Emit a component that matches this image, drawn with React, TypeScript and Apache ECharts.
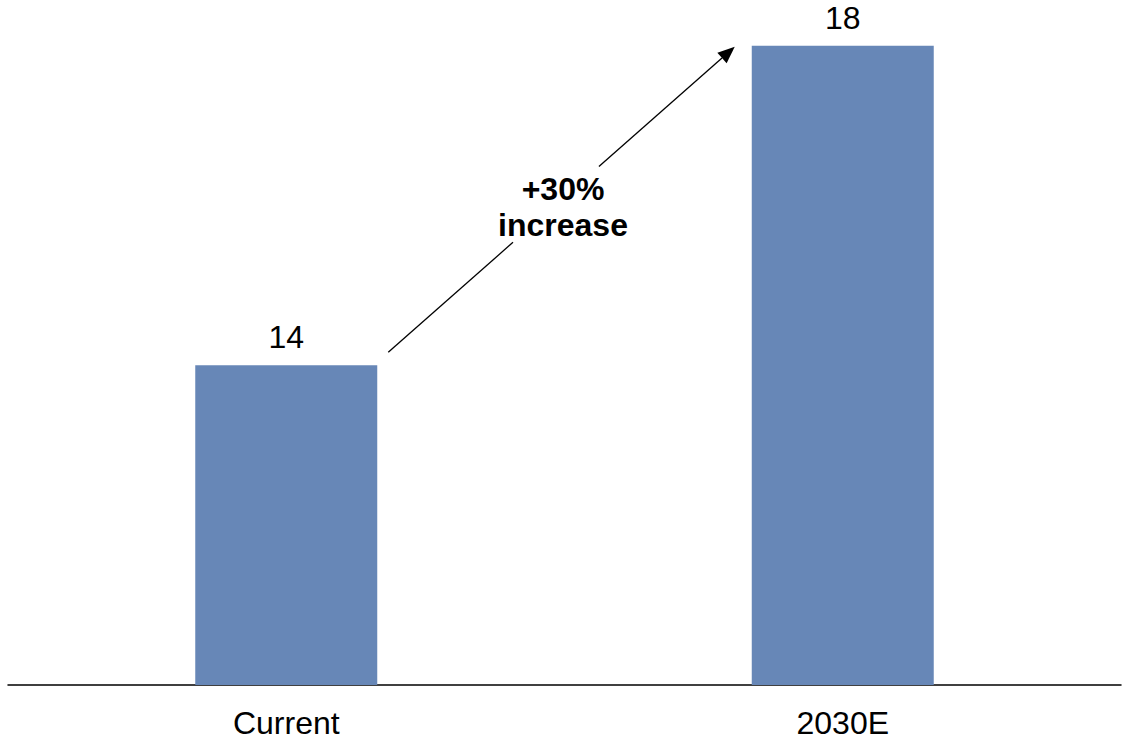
import React, { useEffect, useRef } from "react";
import * as echarts from "echarts";

const categories = ["Current", "2030E"];
const values = [14, 18];
const axisMin = 10;
const axisMax = 18;
const growthLabel = "+30%\nincrease";

const FONT = "'Liberation Sans', Arial, sans-serif";

export default function App() {
  const ref = useRef<HTMLDivElement>(null);
  useEffect(() => {
    document.body.style.margin = "0";
    const chart = echarts.init(ref.current!, null, { renderer: "svg" });
    const option: any = {
      animation: false,
      grid: { left: 8, right: 1, top: 45.7, bottom: 55, containLabel: false },
      xAxis: {
        type: "category",
        data: categories,
        axisLine: { lineStyle: { color: "#000", width: 1.5 } },
        axisTick: { show: false },
        axisLabel: { color: "#000", fontSize: 32, fontFamily: FONT, margin: 22 },
      },
      yAxis: {
        type: "value",
        min: axisMin,
        max: axisMax,
        show: false,
        splitLine: { show: false },
      },
      series: [
        {
          type: "bar",
          data: values,
          barWidth: 182,
          itemStyle: { color: "#6787b7" },
          label: {
            show: true,
            position: "top",
            distance: 12,
            color: "#000",
            fontSize: 32,
            fontFamily: FONT,
          },
        },
      ],
    };
    chart.setOption(option);

    const p1 = chart.convertToPixel({ xAxisIndex: 0, yAxisIndex: 0 }, [0, values[0]]) as number[];
    const p2 = chart.convertToPixel({ xAxisIndex: 0, yAxisIndex: 0 }, [1, values[1]]) as number[];
    const half = 91;
    const sx = p1[0] + half + 11;
    const sy = p1[1] - 13;
    const ex = p2[0] - half - 17;
    const ey = p2[1] + 1;
    const dx = ex - sx;
    const dy = ey - sy;
    const len = Math.sqrt(dx * dx + dy * dy);
    const ux = dx / len;
    const uy = dy / len;
    const nx = -uy;
    const ny = ux;
    const headLen = 17;
    const headHalf = 7;
    const bx = ex - ux * headLen;
    const by = ey - uy * headLen;
    const pt = (t: number) => [sx + dx * t, sy + dy * t];
    const a = pt(0);
    const b = pt(0.36);
    const c = pt(0.608);
    const lineStyle = { stroke: "#000", lineWidth: 1.3 };

    chart.setOption({
      graphic: [
        { type: "line", shape: { x1: a[0], y1: a[1], x2: b[0], y2: b[1] }, style: lineStyle },
        { type: "line", shape: { x1: c[0], y1: c[1], x2: bx, y2: by }, style: lineStyle },
        {
          type: "polygon",
          shape: {
            points: [
              [ex, ey],
              [bx + nx * headHalf, by + ny * headHalf],
              [bx - nx * headHalf, by - ny * headHalf],
            ],
          },
          style: { fill: "#000" },
        },
        {
          type: "text",
          x: 563,
          y: 207,
          style: {
            text: growthLabel,
            fontSize: 32,
            fontWeight: "bold",
            fontFamily: FONT,
            fill: "#000",
            align: "center",
            verticalAlign: "middle",
            lineHeight: 36,
          },
        },
      ],
    });
    return () => chart.dispose();
  }, []);
  return <div ref={ref} style={{ width: 1122, height: 740 }} />;
}
